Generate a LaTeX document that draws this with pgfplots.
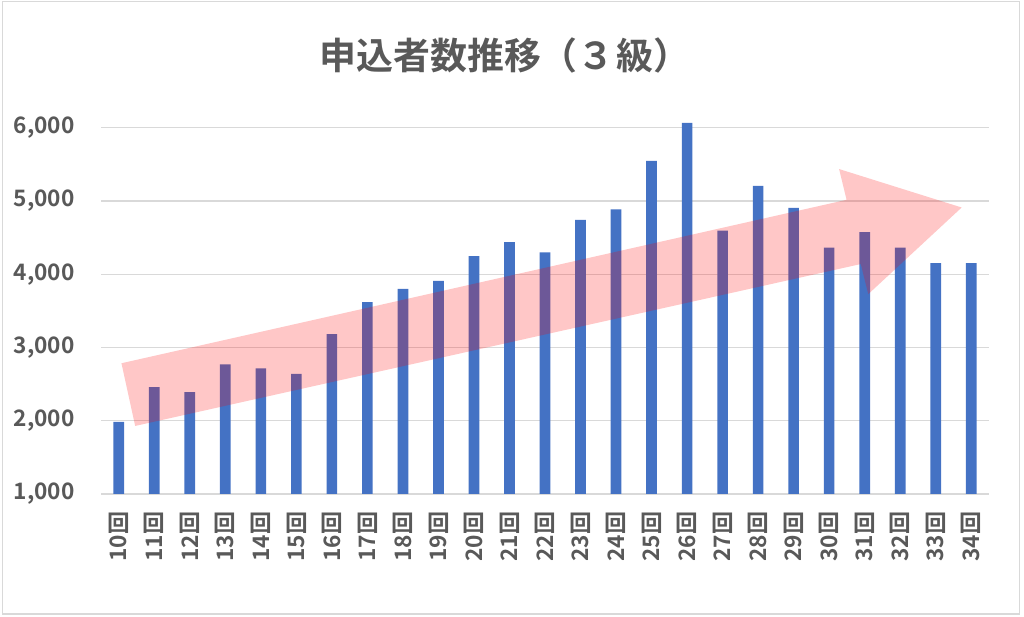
\documentclass[border=0pt]{standalone}
\usepackage{pgfplots}
\pgfplotsset{compat=1.18}
\usepackage{fontspec}
\setmainfont{Noto Sans CJK JP}[BoldFont={Noto Sans CJK JP Bold}]
\usepackage{graphicx}
\definecolor{txt}{RGB}{89,89,89}
\definecolor{gridc}{RGB}{217,217,217}
\definecolor{barc}{RGB}{68,114,196}
\newcommand{\kai}[1]{回\\\rotatebox{90}{#1}}
\begin{document}
\begin{tikzpicture}
\useasboundingbox (0,0) rectangle (768pt,462.75pt);
\draw[gridc, line width=0.9pt] (1.8pt,2.25pt) rectangle (764.6pt,461.4pt);
\node[txt, font=\bfseries\fontsize{27.7}{32}\selectfont, anchor=center] at (378.5pt,421pt) {申込者数推移（３\hspace{1pt}級）};
\begin{axis}[
  at={(75.75pt,92.25pt)}, anchor=south west,
  scale only axis, width=666pt, height=274.7pt,
  xmin=-0.5, xmax=24.5, ymin=1000, ymax=6000,
  clip=false,
  axis line style={draw=none},
  major tick length=0pt,
  ymajorgrids, grid style={gridc, line width=0.9pt},
  ytick={1000,2000,3000,4000,5000,6000},
  xtick={0,...,24},
  xticklabels={\kai{10},\kai{11},\kai{12},\kai{13},\kai{14},\kai{15},\kai{16},\kai{17},\kai{18},\kai{19},\kai{20},\kai{21},\kai{22},\kai{23},\kai{24},\kai{25},\kai{26},\kai{27},\kai{28},\kai{29},\kai{30},\kai{31},\kai{32},\kai{33},\kai{34}},
  xticklabel style={anchor=north, align=center, inner sep=0pt, yshift=-14pt, text=txt, font=\bfseries\fontsize{17}{19}\selectfont},
  yticklabel style={anchor=east, inner sep=0pt, xshift=-19.5pt, text=txt, font=\bfseries\fontsize{17}{20}\selectfont},
  /pgf/number format/.cd, 1000 sep={,}, assume math mode=true,
]
\addplot[ybar, bar width=8pt, fill=barc, draw=none] coordinates {
(0,1986) (1,2460) (2,2392) (3,2769) (4,2715) (5,2641) (6,3183) (7,3618) (8,3799) (9,3908)
(10,4246) (11,4437) (12,4300) (13,4742) (14,4884) (15,5548) (16,6067) (17,4597) (18,5206) (19,4906)
(20,4365) (21,4574) (22,4365) (23,4150) (24,4150)};
\fill[red, fill opacity=0.22] (axis cs:0.076,2785) -- (axis cs:20.49,5016) -- (axis cs:20.28,5436) -- (axis cs:23.73,4911) -- (axis cs:21.10,3728) -- (axis cs:20.89,4139) -- (axis cs:0.462,1929) -- cycle;
\end{axis}
\end{tikzpicture}
\end{document}
